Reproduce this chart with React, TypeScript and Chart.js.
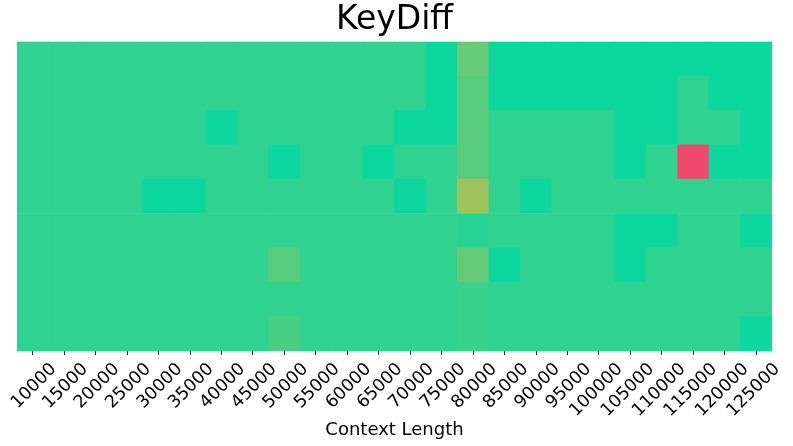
import React, { useEffect, useRef } from 'react';
import { Chart, registerables } from 'chart.js';

Chart.register(...registerables);

const chartTitle = 'KeyDiff';
const xAxisTitle = 'Context Length';

const contextLengths = [
  '10000', '15000', '20000', '25000', '30000', '35000', '40000', '45000',
  '50000', '55000', '60000', '65000', '70000', '75000', '80000', '85000',
  '90000', '95000', '100000', '105000', '110000', '115000', '120000', '125000',
];

// Rows from top (row0) to bottom (row8); one value per context length
const row0 = [0.92, 0.92, 0.92, 0.92, 0.92, 0.92, 0.92, 0.92, 0.92, 0.92, 0.92, 0.92, 0.92, 1.0, 0.8, 1.0, 1.0, 1.0, 1.0, 1.0, 1.0, 1.0, 1.0, 1.0];
const row1 = [0.92, 0.92, 0.92, 0.92, 0.92, 0.92, 0.92, 0.92, 0.92, 0.92, 0.92, 0.92, 0.92, 1.0, 0.83, 1.0, 1.0, 1.0, 1.0, 1.0, 1.0, 0.92, 1.0, 1.0];
const row2 = [0.92, 0.92, 0.92, 0.92, 0.92, 0.92, 1.0, 0.92, 0.92, 0.92, 0.92, 0.92, 1.0, 1.0, 0.83, 0.92, 0.92, 0.92, 0.92, 1.0, 1.0, 0.92, 0.92, 1.0];
const row3 = [0.92, 0.92, 0.92, 0.92, 0.92, 0.92, 0.92, 0.92, 1.0, 0.92, 0.92, 1.0, 0.92, 0.92, 0.83, 0.92, 0.92, 0.92, 0.92, 1.0, 0.92, 0.0, 1.0, 1.0];
const row4 = [0.92, 0.92, 0.92, 0.92, 1.0, 1.0, 0.92, 0.92, 0.92, 0.92, 0.92, 0.92, 1.0, 0.92, 0.67, 0.92, 1.0, 0.92, 0.92, 0.92, 0.92, 0.92, 0.92, 0.92];
const row5 = [0.92, 0.92, 0.92, 0.92, 0.92, 0.92, 0.92, 0.92, 0.92, 0.92, 0.92, 0.92, 0.92, 0.92, 0.94, 0.92, 0.92, 0.92, 0.92, 1.0, 1.0, 0.92, 0.92, 1.0];
const row6 = [0.92, 0.92, 0.92, 0.92, 0.92, 0.92, 0.92, 0.92, 0.83, 0.92, 0.92, 0.92, 0.92, 0.92, 0.8, 1.0, 0.92, 0.92, 0.92, 1.0, 0.92, 0.92, 0.92, 0.92];
const row7 = [0.92, 0.92, 0.92, 0.92, 0.92, 0.92, 0.92, 0.92, 0.92, 0.92, 0.92, 0.92, 0.92, 0.92, 0.9, 0.92, 0.92, 0.92, 0.92, 0.92, 0.92, 0.92, 0.92, 0.92];
const row8 = [0.92, 0.92, 0.92, 0.92, 0.92, 0.92, 0.92, 0.92, 0.865, 0.92, 0.92, 0.92, 0.92, 0.92, 0.9, 0.92, 0.92, 0.92, 0.92, 0.92, 0.92, 0.92, 0.92, 1.0];

const rowsTopToBottom = [row0, row1, row2, row3, row4, row5, row6, row7, row8];

// Colormap stops: red -> yellow -> teal
const cmapStops: [number, [number, number, number]][] = [
  [0.0, [0xf0, 0x49, 0x6e]],
  [0.5, [0xeb, 0xb8, 0x39]],
  [1.0, [0x0c, 0xd7, 0x9f]],
];

function cmap(v: number): string {
  const x = Math.max(0, Math.min(1, v));
  for (let i = 0; i < cmapStops.length - 1; i++) {
    const [a, ca] = cmapStops[i];
    const [b, cb] = cmapStops[i + 1];
    if (x >= a && x <= b) {
      const t = (x - a) / (b - a);
      const c = ca.map((cv, k) => Math.round(cv + (cb[k] - cv) * t));
      return `rgb(${c[0]},${c[1]},${c[2]})`;
    }
  }
  const c = cmapStops[cmapStops.length - 1][1];
  return `rgb(${c[0]},${c[1]},${c[2]})`;
}

export default function App() {
  const canvasRef = useRef<HTMLCanvasElement | null>(null);

  useEffect(() => {
    if (!canvasRef.current) return;
    Chart.defaults.font.family = "'DejaVu Sans', sans-serif";
    const nRows = rowsTopToBottom.length;
    // datasets stacked from bottom to top
    const datasets = rowsTopToBottom
      .slice()
      .reverse()
      .map((row, k) => ({
        label: `row${nRows - 1 - k}`,
        data: row.map(() => 1),
        backgroundColor: row.map((v) => cmap(v)),
        borderWidth: 0,
        barPercentage: 1.0,
        categoryPercentage: 1.0,
      }));

    const chart = new Chart(canvasRef.current, {
      type: 'bar',
      data: { labels: contextLengths, datasets },
      options: {
        animation: false,
        responsive: false,
        maintainAspectRatio: false,
        layout: { padding: { left: 17, right: 21, top: 0, bottom: 0 } },
        plugins: {
          legend: { display: false },
          tooltip: { enabled: false },
          title: {
            display: true,
            text: chartTitle,
            color: '#000',
            font: { size: 33, weight: 'normal', family: "'DejaVu Sans', sans-serif" },
            padding: { top: 1, bottom: 1 },
          },
        },
        scales: {
          x: {
            stacked: true,
            offset: true,
            border: { display: false },
            grid: {
              display: true,
              offset: false,
              drawOnChartArea: false,
              drawTicks: true,
              tickLength: 4,
              tickWidth: 1,
              tickColor: '#333',
            },
            ticks: {
              autoSkip: false,
              maxRotation: 45,
              minRotation: 45,
              color: '#000',
              padding: 4,
              labelOffset: 21,
              font: { size: 17.5 },
            },
            title: {
              display: true,
              text: xAxisTitle,
              color: '#000',
              font: { size: 18 },
              padding: { top: 0, bottom: 5 },
            },
            afterFit: (scale: any) => {
              scale.height = 95;
              scale.paddingLeft = 0;
              scale.paddingRight = 0;
            },
          },
          y: {
            stacked: true,
            display: false,
            min: 0,
            max: nRows,
          },
        },
      },
    });
    return () => chart.destroy();
  }, []);

  return (
    <div style={{ position: 'fixed', left: 0, top: 0, width: 793, height: 446, background: '#fff' }}>
      <canvas ref={canvasRef} width={793} height={446} style={{ display: 'block' }} />
    </div>
  );
}
